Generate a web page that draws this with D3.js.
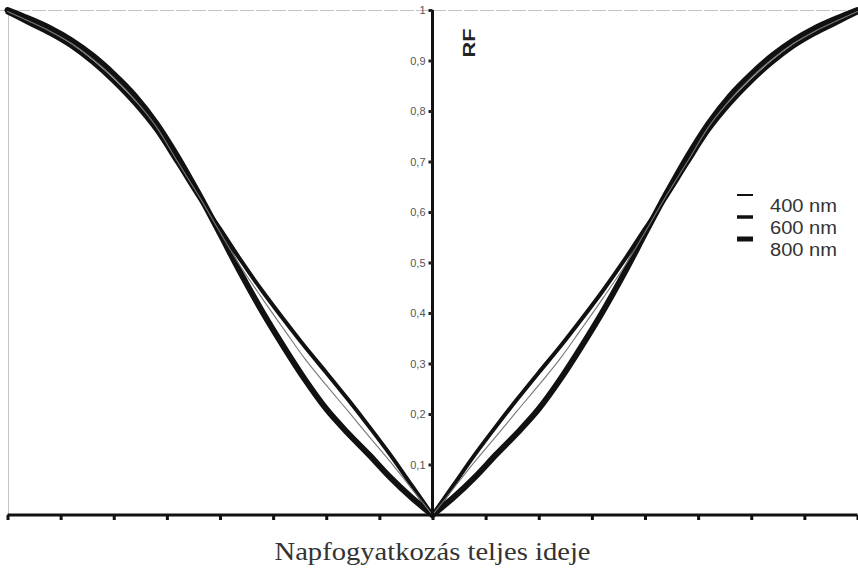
<!DOCTYPE html>
<html>
<head>
<meta charset="utf-8">
<script src="https://cdn.jsdelivr.net/npm/d3@7"></script>
<style>
  html, body { margin: 0; padding: 0; background: #fff; }
  svg { display: block; }
</style>
</head>
<body>
<svg id="chart" width="858" height="569"></svg>
<script>
// Time from mid-eclipse as a fraction of the half duration (0 = centre, 1 = edge)
const halfTime = [0, 0.05, 0.1, 0.15, 0.2, 0.25, 0.3, 0.35, 0.4, 0.45, 0.5,
                  0.55, 0.6, 0.65, 0.7, 0.75, 0.8, 0.85, 0.9, 0.95, 1.0];

// Relative flux (RF) for each wavelength
const rf400 = [0, 0.053, 0.106, 0.156, 0.207, 0.257, 0.309, 0.368, 0.428, 0.49, 0.56,
               0.632, 0.70, 0.769, 0.822, 0.866, 0.903, 0.934, 0.958, 0.978, 0.997];
const rf600 = [0, 0.06, 0.12, 0.176, 0.23, 0.282, 0.333, 0.387, 0.443, 0.503, 0.567,
               0.630, 0.697, 0.762, 0.814, 0.858, 0.896, 0.928, 0.953, 0.974, 0.995];
const rf800 = [0, 0.035, 0.075, 0.12, 0.163, 0.21, 0.268, 0.333, 0.402, 0.477, 0.557,
               0.636, 0.710, 0.776, 0.83, 0.873, 0.91, 0.94, 0.964, 0.983, 1.0];

const seriesNames = ["400 nm", "600 nm", "800 nm"];
const seriesValues = [rf400, rf600, rf800];

const yTicks = [0.1, 0.2, 0.3, 0.4, 0.5, 0.6, 0.7, 0.8, 0.9, 1];
const xTickCount = 16;

const xTitle = "Napfogyatkozás teljes ideje";
const yTitle = "RF";

const lineWidths = [1.1, 4, 6];
const lineColors = ["#777", "#111", "#111"];
const legendWidths = [2, 3.5, 5];

const svg = d3.select("#chart");

const x = d3.scaleLinear().domain([-1, 1]).range([7.5, 857.5]);
const y = d3.scaleLinear().domain([0, 1]).range([515, 10]);

// light frame along the top and left edges
svg.append("line")
  .attr("x1", 0).attr("x2", 858).attr("y1", 10.5).attr("y2", 10.5)
  .attr("stroke", "#c4c4c4").attr("stroke-width", 1).attr("stroke-dasharray", "14 2");
svg.append("line")
  .attr("x1", 8.5).attr("x2", 8.5).attr("y1", 10).attr("y2", 515)
  .attr("stroke", "#c4c4c4").attr("stroke-width", 1);

// curves: each half drawn separately so the minimum stays a sharp point
const line = d3.line()
  .x(d => x(d[0]))
  .y(d => y(d[1]))
  .curve(d3.curveMonotoneX);

const curves = svg.append("g").attr("fill", "none");
[2, 1, 0].forEach(i => {
  const vals = seriesValues[i];
  const left = halfTime.map((t, k) => [-t, vals[k]]).reverse();
  const right = halfTime.map((t, k) => [t, vals[k]]);
  [left, right].forEach(pts => {
    curves.append("path")
      .attr("d", line(pts))
      .attr("stroke", lineColors[i])
      .attr("stroke-width", lineWidths[i])
      .attr("stroke-linecap", "round")
      .attr("stroke-linejoin", "round");
  });
});

// x axis
const xAxis = d3.axisBottom(x)
  .tickValues(d3.range(xTickCount + 1).map(i => -1 + i * 2 / xTickCount))
  .tickSize(5)
  .tickFormat("");
const gx = svg.append("g").attr("transform", "translate(0,515)").call(xAxis);
gx.select(".domain").attr("stroke", "#111").attr("stroke-width", 3).attr("d", `M${x(-1)},0H${x(1)}`);
gx.selectAll(".tick line").attr("stroke", "#111").attr("stroke-width", 3);

// y axis through the centre
const yAxis = d3.axisLeft(y)
  .tickValues(yTicks)
  .tickSize(4)
  .tickPadding(3)
  .tickFormat(d => d3.format(".1~f")(d).replace(".", ","));
const gy = svg.append("g").attr("transform", `translate(${x(0)},0)`).call(yAxis);
gy.select(".domain").attr("stroke", "#111").attr("stroke-width", 3).attr("d", `M0,${y(1)}V${y(0)}`);
gy.selectAll(".tick line").attr("stroke", "#222").attr("stroke-width", 3);
gy.selectAll(".tick text")
  .attr("fill", "#555")
  .style("font-family", "Liberation Sans, Arial, sans-serif")
  .style("font-size", "11px");

// y title
svg.append("text")
  .attr("transform", `translate(${x(0) + 42},${43}) rotate(-90)`)
  .attr("text-anchor", "middle")
  .attr("textLength", 29)
  .attr("lengthAdjust", "spacingAndGlyphs")
  .style("font-family", "Liberation Sans, Arial, sans-serif")
  .style("font-size", "17px")
  .style("font-weight", "bold")
  .attr("fill", "#222")
  .text(yTitle);

// x title, slightly widened
svg.append("text")
  .attr("transform", `translate(${x(0)},560) scale(1.1,1)`)
  .attr("text-anchor", "middle")
  .style("font-family", "Liberation Serif, 'Times New Roman', serif")
  .style("font-size", "26px")
  .attr("fill", "#333")
  .text(xTitle);

// legend
const legend = svg.append("g").attr("transform", "translate(737,195)");
seriesNames.forEach((name, i) => {
  const g = legend.append("g").attr("transform", `translate(0,${i * 22})`);
  g.append("line")
    .attr("x1", 0).attr("x2", 16).attr("y1", 0).attr("y2", 0)
    .attr("stroke", "#111").attr("stroke-width", legendWidths[i]);
  g.append("text")
    .attr("x", 33).attr("y", 11)
    .attr("dy", "0.35em")
    .attr("textLength", 67)
    .attr("lengthAdjust", "spacingAndGlyphs")
    .style("font-family", "Liberation Sans, Arial, sans-serif")
    .style("font-size", "18px")
    .attr("fill", "#333")
    .text(name);
});
</script>
</body>
</html>
